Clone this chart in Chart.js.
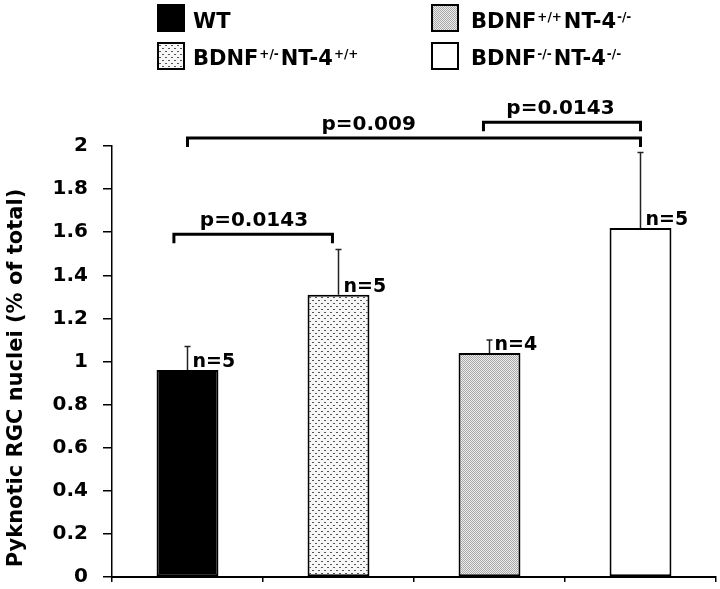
<!DOCTYPE html>
<html>
<head>
<meta charset="utf-8">
<script src="https://cdn.jsdelivr.net/npm/chart.js@4/dist/chart.umd.min.js"></script>
<style>
  body { margin: 0; background: #fff; }
  #wrap { width: 720px; height: 589px; }
</style>
</head>
<body>
<div id="wrap"><canvas id="chart" width="720" height="589"></canvas></div>
<script>
// data
const categories = ['WT', 'BDNF+/-NT-4+/+', 'BDNF+/+NT-4-/-', 'BDNF-/-NT-4-/-'];
const means = [0.96, 1.31, 1.04, 1.62];
const sem = [0.11, 0.21, 0.06, 0.35];
const nLabels = ['n=5', 'n=5', 'n=4', 'n=5'];
const yTitle = 'Pyknotic RGC nuclei (% of total)';

// legend text split into [base, superscript] pieces
const legendParts = [
    [['WT', '']],
    [['BDNF', '+/-'], ['NT-4', '+/+']],
    [['BDNF', '+/+'], ['NT-4', '-/-']],
    [['BDNF', '-/-'], ['NT-4', '-/-']]
];

// significance brackets: from/to in category index, level in y units
const bracketFrom = [-0.09, 0, 1.96];
const bracketTo = [0.96, 3, 3];
const bracketLevel = [1.59, 2.037, 2.11];
const bracketText = ['p=0.0143', 'p=0.009', 'p=0.0143'];
const bracketTextAt = [0.44, 1.2, 2.47];

const FONT = '"DejaVu Sans", sans-serif';

function makePattern(w, h, bg, fg, dots) {
    const c = document.createElement('canvas');
    c.width = w; c.height = h;
    const g = c.getContext('2d');
    g.fillStyle = bg;
    g.fillRect(0, 0, w, h);
    g.fillStyle = fg;
    dots.forEach(d => g.fillRect(d[0], d[1], d[2], d[3]));
    return g.createPattern(c, 'repeat');
}

const ctx = document.getElementById('chart').getContext('2d');
const dotted = makePattern(6, 6, '#f7f7f7', '#555', [[0, 0, 2, 1], [3, 3, 2, 1]]);
const stipple = makePattern(2, 2, '#ececec', '#a8a8a8', [[0, 0, 1, 1], [1, 1, 1, 1]]);
const fills = ['#000', dotted, stipple, '#fff'];

const overlay = {
    id: 'overlay',
    afterDatasetsDraw(chart) {
        const { ctx, scales: { x, y } } = chart;
        ctx.save();

        // error bars (upper only) + n labels
        means.forEach((m, i) => {
            const px = x.getPixelForValue(i);
            const base = y.getPixelForValue(m);
            const top = y.getPixelForValue(m + sem[i]);
            ctx.strokeStyle = '#222';
            ctx.lineWidth = 1.5;
            ctx.beginPath();
            ctx.moveTo(px, base);
            ctx.lineTo(px, top);
            ctx.moveTo(px - 3, top);
            ctx.lineTo(px + 3, top);
            ctx.stroke();
            ctx.fillStyle = '#000';
            ctx.font = 'bold 19px ' + FONT;
            ctx.textAlign = 'left';
            ctx.textBaseline = 'alphabetic';
            ctx.fillText(nLabels[i], px + 5, base - 3);
        });

        // p-value brackets
        ctx.strokeStyle = '#000';
        ctx.lineWidth = 3;
        ctx.lineJoin = 'miter';
        bracketText.forEach((t, i) => {
            const x1 = x.getPixelForValue(bracketFrom[i]);
            const x2 = x.getPixelForValue(bracketTo[i]);
            const yy = y.getPixelForValue(bracketLevel[i]);
            ctx.beginPath();
            ctx.moveTo(x1, yy + 9);
            ctx.lineTo(x1, yy);
            ctx.lineTo(x2, yy);
            ctx.lineTo(x2, yy + 9);
            ctx.stroke();
            ctx.font = 'bold 20px ' + FONT;
            ctx.textAlign = 'center';
            ctx.fillText(t, x.getPixelForValue(bracketTextAt[i]), yy - 8);
        });
        ctx.restore();
    },
    afterDraw(chart) {
        const ctx = chart.ctx;

        // y axis title, sits a little below the plot centre in the original
        ctx.save();
        ctx.translate(17, 378);
        ctx.rotate(-Math.PI / 2);
        ctx.fillStyle = '#000';
        ctx.font = 'bold 21px ' + FONT;
        ctx.textAlign = 'center';
        ctx.textBaseline = 'middle';
        ctx.fillText(yTitle, 0, 0);
        ctx.restore();

        // legend, two columns with superscripts
        const boxX = [157, 157, 431, 431];
        const boxY = [4, 42, 4, 42];
        const textX = [193, 193, 471, 471];
        const baseY = [28, 65, 28, 65];
        ctx.save();
        legendParts.forEach((parts, i) => {
            ctx.fillStyle = fills[i];
            ctx.fillRect(boxX[i], boxY[i], 28, 28);
            ctx.strokeStyle = '#000';
            ctx.lineWidth = 2;
            ctx.strokeRect(boxX[i] + 1, boxY[i] + 1, 26, 26);
            let cx = textX[i];
            ctx.fillStyle = '#000';
            ctx.textAlign = 'left';
            ctx.textBaseline = 'alphabetic';
            parts.forEach(p => {
                ctx.font = 'bold 21px ' + FONT;
                ctx.fillText(p[0], cx, baseY[i]);
                cx += ctx.measureText(p[0]).width;
                if (p[1]) {
                    ctx.font = 'bold 12px ' + FONT;
                    ctx.fillText(p[1], cx + 1, baseY[i] - 7);
                    cx += ctx.measureText(p[1]).width + 3;
                }
            });
        });
        ctx.restore();
    }
};

new Chart(ctx, {
    type: 'bar',
    data: {
        labels: categories,
        datasets: [{
            data: means,
            backgroundColor: fills,
            borderColor: '#000',
            borderWidth: 2,
            borderSkipped: false,
            categoryPercentage: 1,
            barPercentage: 0.41
        }]
    },
    options: {
        responsive: false,
        animation: false,
        devicePixelRatio: 1,
        layout: { padding: { top: 146, right: 4, bottom: 0, left: 0 } },
        plugins: {
            legend: { display: false },
            tooltip: { enabled: false }
        },
        scales: {
            x: {
                offset: true,
                grid: { offset: true, drawOnChartArea: false, tickLength: 5, color: '#000', lineWidth: 1.5 },
                border: { color: '#000', width: 2 },
                ticks: { display: false },
                afterFit: s => { s.height = 12; }
            },
            y: {
                min: 0,
                max: 2,
                grid: { drawOnChartArea: false, tickLength: 9, color: '#000', lineWidth: 1.5 },
                border: { color: '#000', width: 1.5 },
                ticks: {
                    stepSize: 0.2,
                    padding: 15,
                    color: '#000',
                    font: { family: FONT, size: 20, weight: 'bold' },
                    callback: v => String(Number(v.toFixed(1)))
                },
                afterFit: s => {
                    s.width = 112;
                    s.paddingTop = 0;
                    s.paddingBottom = 0;
                }
            }
        }
    },
    plugins: [overlay]
});
</script>
</body>
</html>
